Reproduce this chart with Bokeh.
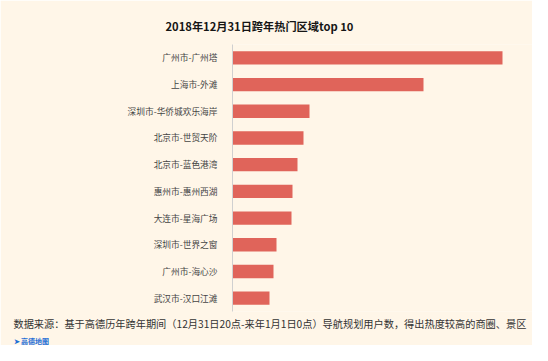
from bokeh.plotting import figure
from bokeh.models import ColumnDataSource, FactorRange, Range1d, Title
from bokeh.embed import file_html
from bokeh.resources import INLINE

title_text = "2018年12月31日跨年热门区域top 10"
categories = ["广州市-广州塔", "上海市-外滩", "深圳市-华侨城欢乐海岸", "北京市-世贸天阶",
              "北京市-蓝色港湾", "惠州市-惠州西湖", "大连市-星海广场", "深圳市-世界之窗",
              "广州市-海心沙", "武汉市-汉口江滩"]
values = [270, 191, 77, 71, 65, 60, 59, 44, 41, 37]
footer_text = "数据来源：基于高德历年跨年期间（12月31日20点-来年1月1日0点）导航规划用户数，得出热度较高的商圈、景区"
logo_name = "➤ 高德地图"

BG = "#FFF6E8"
BAR = "#E0645A"
FONT = "Noto Sans CJK SC"

source = ColumnDataSource(dict(cat=categories, val=values))
p = figure(width=532, height=345, output_backend="svg", toolbar_location=None,
           y_range=FactorRange(factors=categories[::-1]),
           x_range=Range1d(0, 300), x_axis_location=None,
           min_border_left=232, min_border_right=0, min_border_top=44, min_border_bottom=33)
p.background_fill_color = BG
p.border_fill_color = BG
p.outline_line_color = None
p.xgrid.visible = False
p.ygrid.visible = False
p.hbar(y="cat", right="val", left=0, height=0.5, source=source,
       fill_color=BAR, line_color=None)
ax = p.yaxis[0]
ax.major_tick_line_color = None
ax.minor_tick_line_color = None
ax.axis_line_color = "#d0d0d0"
ax.major_label_standoff = 9
ax.major_label_text_font = FONT
ax.major_label_text_font_size = "8.7px"
ax.major_label_text_color = "#444444"

# frame spans x 232..532; offsets relative to the frame's left edge
p.add_layout(Title(text=title_text, align="left", offset=-67, standoff=22,
                   text_font=FONT, text_font_size="11.2px", text_font_style="bold",
                   text_color="#151515"), "above")
p.add_layout(Title(text=footer_text, align="left", offset=-219, standoff=5,
                   text_font=FONT, text_font_size="10.2px", text_font_style="normal",
                   text_color="#333333"), "below")
p.add_layout(Title(text=logo_name, align="left", offset=-219, standoff=0,
                   text_font=FONT, text_font_size="7px", text_font_style="bold",
                   text_color="#1F6FD6"), "below")

html = file_html(p, INLINE)
html = html.replace("<body>", '<body style="background:%s">' % BG, 1)
open("out.html", "w").write(html)
